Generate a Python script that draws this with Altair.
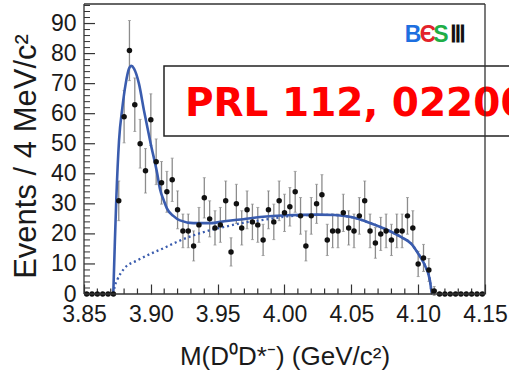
import altair as alt
import pandas as pd

# ---- data ----
bin_centers = [3.852, 3.856, 3.860, 3.864, 3.868, 3.872, 3.876, 3.880, 3.884, 3.888,
               3.892, 3.896, 3.900, 3.904, 3.908, 3.912, 3.916, 3.920, 3.924, 3.928,
               3.932, 3.936, 3.940, 3.944, 3.948, 3.952, 3.956, 3.960, 3.964, 3.968,
               3.972, 3.976, 3.980, 3.984, 3.988, 3.992, 3.996, 4.000, 4.004, 4.008,
               4.012, 4.016, 4.020, 4.024, 4.028, 4.032, 4.036, 4.040, 4.044, 4.048,
               4.052, 4.056, 4.060, 4.064, 4.068, 4.072, 4.076, 4.080, 4.084, 4.088,
               4.092, 4.096, 4.100, 4.104, 4.108, 4.112, 4.116, 4.120, 4.124, 4.128,
               4.132, 4.136, 4.140, 4.144, 4.148]
counts = [0, 0, 0, 0, 0, 0, 31, 59, 81, 63,
          50, 41, 58, 44, 37, 34, 38, 28, 21, 21,
          16, 23, 32, 25, 22, 23, 31, 14, 30, 22,
          28, 24, 23, 18, 28, 24, 31, 27, 29, 34,
          26, 16, 26, 30, 33, 18, 21, 21, 27, 22,
          21, 26, 31, 21, 17, 20, 21, 18, 21, 21,
          26, 22, 10, 12, 8, 1, 0, 0, 0, 0,
          0, 0, 0, 0, 0]
errors = [0, 0, 0, 0, 0, 0, 6.6, 8.7, 10.0, 8.9,
          8.1, 7.4, 8.6, 7.6, 7.1, 6.8, 7.2, 6.3, 5.6, 5.6,
          5.0, 5.8, 6.7, 6.0, 5.7, 5.8, 6.6, 4.7, 6.5, 5.7,
          6.3, 5.9, 5.8, 5.2, 6.3, 5.9, 6.6, 6.2, 6.4, 6.8,
          6.1, 5.0, 6.1, 6.5, 6.7, 5.2, 5.6, 5.6, 6.2, 5.7,
          5.6, 6.1, 6.6, 5.6, 5.1, 5.5, 5.6, 5.2, 5.6, 5.6,
          6.1, 5.7, 4.2, 4.5, 3.8, 1.5, 0, 0, 0, 0,
          0, 0, 0, 0, 0]

fit_x = [3.8719, 3.8730, 3.8742, 3.8762, 3.8787, 3.8812, 3.8837, 3.8854, 3.8874,
         3.8911, 3.8949, 3.8999, 3.9048, 3.9068, 3.9098, 3.9120, 3.9168, 3.9218,
         3.9318, 3.9443, 3.9567, 3.9692, 3.9817, 4.0017, 4.0249, 4.0374, 4.0499,
         4.0624, 4.0749, 4.0874, 4.0949, 4.1001, 4.1051, 4.1088, 4.1101, 4.1106]
fit_y = [0, 16, 32, 51, 62, 70, 75, 75.9, 75,
         70, 61, 50, 40, 35, 31, 28.5, 26, 24.5,
         23.6, 23.6, 24.3, 24.9, 25.6, 26.2, 26.4, 26.3, 25.6,
         23.9, 21.7, 18.9, 16.7, 13.4, 9.5, 4.5, 0.6, 0]

bkg_x = [3.8719, 3.8730, 3.8750, 3.8800, 3.8899, 3.8999, 3.9098, 3.9193, 3.9318,
         3.9443, 3.9567, 3.9692, 3.9817, 4.0017, 4.0249, 4.0374, 4.0499, 4.0624,
         4.0749, 4.0874, 4.0949, 4.1001, 4.1051, 4.1088, 4.1101, 4.1106]
bkg_y = [0, 2.5, 4.8, 8.4, 11.2, 13.4, 15.3, 17.3, 19.5,
         21.2, 22.5, 23.7, 24.5, 25.8, 26.3, 26.3, 25.6, 23.9,
         21.7, 18.9, 16.7, 13.4, 9.5, 4.5, 0.6, 0]

x_labels = [3.85, 3.90, 3.95, 4.00, 4.05, 4.10, 4.15]
y_labels = [0, 10, 20, 30, 40, 50, 60, 70, 80, 90]
x_minor = [3.86, 3.87, 3.88, 3.89, 3.91, 3.92, 3.93, 3.94, 3.96, 3.97, 3.98, 3.99,
           4.01, 4.02, 4.03, 4.04, 4.06, 4.07, 4.08, 4.09, 4.11, 4.12, 4.13, 4.14]
y_minor = [v for v in range(2, 97, 2) if v % 10 != 0]

W, H = 401, 290
XDOM = [3.85, 4.15]
YDOM = [0, 96.5]
PXU = H / (YDOM[1] - YDOM[0])  # pixels per y unit
BLUE = "#3a5cae"
FONT = "Liberation Sans"
TC = "#333333"

xs = alt.Scale(domain=XDOM, nice=False, zero=False)
ys = alt.Scale(domain=YDOM, nice=False, zero=True)

# bottom axis: drawn 10 px up inside the plot so its (major) ticks point inwards
AX_X = alt.Axis(values=x_labels, format=".2f", ticks=True, tickSize=10,
                tickColor=TC, tickWidth=1.2, offset=-10,
                domain=False, grid=False, labelFontSize=23, labelFont=FONT,
                labelOverlap=False, labelFlush=False, labelBound=False,
                labelColor="#1a1a1a", labelPadding=9,
                title="M(D⁰D*⁻) (GeV/c²)", titleFont=FONT,
                titleFontSize=26, titleFontWeight="normal",
                titleColor="#1a1a1a", titleY=72, titleBaseline="middle")
AX_Y = alt.Axis(values=y_labels, ticks=False, domain=False, grid=False,
                labelFontSize=23, labelFont=FONT, labelColor="#1a1a1a",
                labelOverlap=False, labelFlush=False, labelBound=False,
                labelPadding=8, title="Events / 4 MeV/c²", titleFont=FONT,
                titleFontSize=31, titleFontWeight="normal",
                titleColor="#1a1a1a", titleX=-58, titleY=152,
                titleAngle=270, titleAlign="center", titleBaseline="middle")


def X(f):
    return alt.X(f, scale=xs, axis=AX_X)


def Y(f):
    return alt.Y(f, scale=ys, axis=AX_Y)


df = pd.DataFrame({"m": bin_centers, "n": counts, "e": errors})
df["lo"] = df["n"] - df["e"]
df["hi"] = df["n"] + df["e"]
df_err = df[df["n"] > 0]

fit_df = pd.DataFrame({"m": fit_x, "v": fit_y})
bkg_df = pd.DataFrame({"m": bkg_x, "v": bkg_y})
one = pd.DataFrame({"a": [0]})

points = alt.Chart(df).mark_circle(size=30, color="#111111", opacity=1).encode(
    x=X("m:Q"), y=Y("n:Q"))

EC = "#8c8c8c"
errbars = alt.Chart(df_err).mark_rule(color=EC, strokeWidth=1.3).encode(
    x=X("m:Q"), y=Y("lo:Q"), y2="hi:Q")
caps_lo = alt.Chart(df_err).mark_tick(color=EC, thickness=1, size=3,
                                       orient="horizontal").encode(
    x=X("m:Q"), y=Y("lo:Q"))
caps_hi = alt.Chart(df_err).mark_tick(color=EC, thickness=1, size=3,
                                       orient="horizontal").encode(
    x=X("m:Q"), y=Y("hi:Q"))

bkg = alt.Chart(bkg_df).mark_line(color=BLUE, strokeWidth=2.3, strokeDash=[2, 3],
                                  interpolate="monotone").encode(
    x=X("m:Q"), y=Y("v:Q"))
fit = alt.Chart(fit_df).mark_line(color=BLUE, strokeWidth=2.6,
                                  interpolate="monotone").encode(
    x=X("m:Q"), y=Y("v:Q"))

# minor bottom ticks, length expressed in y units
xminor_df = pd.DataFrame({"xt": x_minor,
                          "yb": [0.0] * len(x_minor),
                          "ytop": [5.5 / PXU] * len(x_minor)})
xminor = alt.Chart(xminor_df).mark_rule(color=TC, strokeWidth=1.2).encode(
    x=X("xt:Q"), y=Y("yb:Q"), y2="ytop:Q")

tdf_yM = pd.DataFrame({"t": y_labels})
tdf_ym = pd.DataFrame({"t": y_minor})
yt_major = alt.Chart(tdf_yM).mark_rule(color=TC, strokeWidth=1.2,
                                       orient="horizontal").encode(
    y=Y("t:Q"), x=alt.value(0), x2=alt.value(11))
yt_minor = alt.Chart(tdf_ym).mark_rule(color=TC, strokeWidth=1,
                                       orient="horizontal").encode(
    y=Y("t:Q"), x=alt.value(0), x2=alt.value(6))

# annotation box
box = alt.Chart(one).mark_rect(fill="white", stroke="#222222", strokeWidth=1.5).encode(
    x=alt.value(80), x2=alt.value(460), y=alt.value(62), y2=alt.value(132))
box_text = alt.Chart(one).mark_text(align="left", baseline="alphabetic", fontSize=39,
                                    fontWeight="bold", font="DejaVu Sans",
                                    color="#ff0000").encode(
    x=alt.value(101), y=alt.value(112), text=alt.value("PRL 112, 022001"))

# logo
logo_letters = ["B", "Є", "S", "Ⅲ"]
logo_colors = ["#1d6fe0", "#e3222b", "#1fae47", "#111111"]
logo_x = [329, 344, 357, 374]
logo_layers = []
for L, c, lx in zip(logo_letters, logo_colors, logo_x):
    logo_layers.append(
        alt.Chart(one).mark_text(align="center", baseline="alphabetic", fontSize=23,
                                 font="Liberation Sans Narrow, Liberation Sans",
                                 fontWeight="bold", color=c).encode(
            x=alt.value(lx), y=alt.value(38), text=alt.value(L)))

# frame
FC = "#333333"
frame = [
    alt.Chart(one).mark_rule(color=FC, strokeWidth=1.3).encode(
        x=alt.value(0), x2=alt.value(W), y=alt.value(0)),
    alt.Chart(one).mark_rule(color=FC, strokeWidth=1.3).encode(
        x=alt.value(0), x2=alt.value(W), y=alt.value(H)),
    alt.Chart(one).mark_rule(color=FC, strokeWidth=1.3).encode(
        x=alt.value(0), y=alt.value(0), y2=alt.value(H)),
    alt.Chart(one).mark_rule(color=FC, strokeWidth=1.3).encode(
        x=alt.value(W), y=alt.value(0), y2=alt.value(H)),
]

chart = alt.layer(
    errbars, caps_lo, caps_hi, bkg, fit, xminor, yt_major, yt_minor, points,
    box, box_text, *logo_layers, *frame
).properties(
    width=W, height=H,
    autosize=alt.AutoSizeParams(type="none"),
    padding={"left": 84, "top": 4, "right": 24, "bottom": 77},
    background="white",
).configure_view(stroke=None)

chart.save("out.html", embed_options={"renderer": "svg", "actions": False})
